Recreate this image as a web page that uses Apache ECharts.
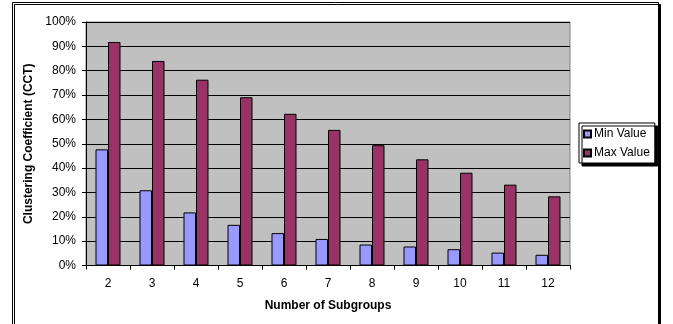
<!DOCTYPE html>
<html>
<head>
<meta charset="utf-8">
<script src="https://cdn.jsdelivr.net/npm/echarts@6/dist/echarts.min.js"></script>
<style>html,body{margin:0;padding:0;background:#fff;}#c{width:673px;height:324px;}</style>
</head>
<body>
<div id="c"></div>
<script>
var categories = ['2','3','4','5','6','7','8','9','10','11','12'];
var minValues = [0.477, 0.309, 0.218, 0.167, 0.133, 0.109, 0.086, 0.078, 0.067, 0.053, 0.044];
var maxValues = [0.918, 0.840, 0.763, 0.691, 0.623, 0.557, 0.494, 0.436, 0.381, 0.332, 0.284];
var seriesNames = ['Min Value', 'Max Value'];

var chart = echarts.init(document.getElementById('c'), null, {renderer: 'canvas'});
var font = 'Liberation Sans, Arial, sans-serif';
chart.setOption({
  animation: false,
  backgroundColor: '#fff',
  graphic: [{
    type: 'rect', z: -10,
    shape: {x: 12.5, y: 2.5, width: 646, height: 340},
    style: {fill: '#fff', stroke: '#000', lineWidth: 1, shadowColor: '#000', shadowOffsetX: 2, shadowOffsetY: 2, shadowBlur: 0}
  }],
  grid: {left: 86, top: 22, width: 484, height: 243.5, show: true, backgroundColor: '#c0c0c0', borderColor: '#808080', borderWidth: 1},
  legend: {
    orient: 'vertical', left: 579, top: 123, itemWidth: 7, itemHeight: 7, itemGap: 7,
    padding: [5, 5, 4, 4],
    backgroundColor: '#fff', borderColor: '#000', borderWidth: 1,
    shadowColor: '#000', shadowOffsetX: 3, shadowOffsetY: 3, shadowBlur: 0,
    textStyle: {fontFamily: font, fontSize: 12, color: '#000', padding: [0, 0, 0, -2]},
    data: seriesNames.map(function(n){ return {name: n, icon: 'rect'}; })
  },
  xAxis: {
    type: 'category', data: categories,
    name: 'Number of Subgroups', nameLocation: 'middle', nameGap: 34,
    nameTextStyle: {fontFamily: font, fontSize: 12, fontWeight: 'bold', color: '#000'},
    axisLine: {lineStyle: {color: '#000'}},
    axisTick: {show: true, length: 4, lineStyle: {color: '#000'}},
    axisLabel: {fontFamily: font, fontSize: 12, color: '#000', margin: 12}
  },
  yAxis: {
    type: 'value', min: 0, max: 1, interval: 0.1,
    name: 'Clustering Coefficient (CCT)', nameLocation: 'middle', nameGap: 47,
    nameTextStyle: {fontFamily: font, fontSize: 12, fontWeight: 'bold', color: '#000'},
    axisLine: {show: true, lineStyle: {color: '#000'}},
    axisTick: {show: true, length: 4, lineStyle: {color: '#000'}},
    axisLabel: {fontFamily: font, fontSize: 12, color: '#000', margin: 10,
      formatter: function(v){ return Math.round(v*100) + '%'; }},
    splitLine: {show: true, lineStyle: {color: '#000', width: 1}}
  },
  series: [
    {name: seriesNames[0], type: 'bar', data: minValues, barWidth: 12.5, barGap: '0%',
     itemStyle: {color: '#9999ff', borderColor: '#000', borderWidth: 1}},
    {name: seriesNames[1], type: 'bar', data: maxValues, barWidth: 12.5, barGap: '0%',
     itemStyle: {color: '#993366', borderColor: '#000', borderWidth: 1}}
  ]
});
</script>
</body>
</html>
